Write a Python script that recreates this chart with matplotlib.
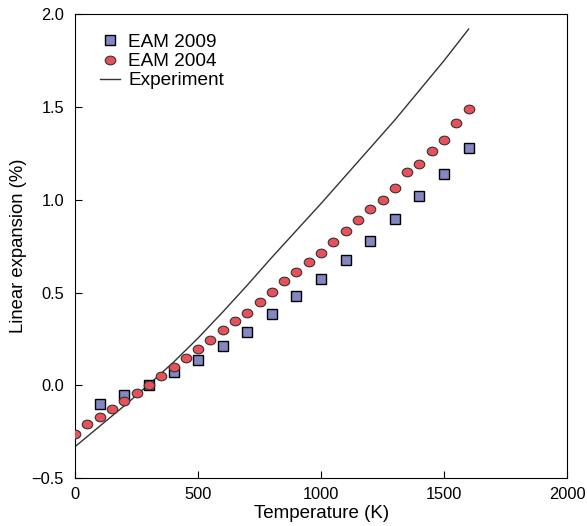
import numpy as np
import matplotlib.pyplot as plt
from matplotlib.path import Path
from matplotlib.transforms import Affine2D

plt.rcParams['font.family'] = ['Liberation Sans', 'DejaVu Sans']

# EAM 2009 (squares)
t_2009 = [100, 200, 300, 400, 500, 600, 700, 800, 900, 1000, 1100, 1200, 1300, 1400, 1500, 1600]
exp_2009 = [-0.10, -0.05, 0.00, 0.07, 0.135, 0.21, 0.29, 0.385, 0.48, 0.575, 0.675, 0.78, 0.895, 1.02, 1.14, 1.28]

# EAM 2004 (circles)
t_2004 = np.arange(0, 1650, 50)
exp_2004 = [-0.26, -0.21, -0.17, -0.125, -0.085, -0.04, 0.0, 0.05, 0.10, 0.145, 0.195,
            0.245, 0.30, 0.345, 0.39, 0.45, 0.505, 0.56, 0.61, 0.665, 0.715, 0.775,
            0.83, 0.89, 0.95, 1.00, 1.065, 1.15, 1.195, 1.265, 1.32, 1.415, 1.49]

# Experiment (line)
t_exp = [0, 100, 200, 300, 400, 500, 600, 700, 800, 900, 1000, 1100, 1200, 1300, 1400, 1500, 1600]
exp_exp = [-0.33, -0.22, -0.11, 0.005, 0.125, 0.255, 0.395, 0.54, 0.69, 0.835, 0.98,
           1.13, 1.28, 1.43, 1.59, 1.75, 1.92]

# slightly flattened circle marker
ellipse = Path.unit_circle().transformed(Affine2D().scale(1.0, 0.82))

fig = plt.figure(figsize=(5.87, 5.26), dpi=100)
ax = fig.add_axes([0.128, 0.091, 0.838, 0.882])

ax.plot(t_2009, exp_2009, 's', ms=6.6, mfc='#8587c2', mec='black', mew=1.0,
        label='EAM 2009', zorder=3)
ax.plot(t_2004, exp_2004, marker=ellipse, ls='none', ms=7.6, mfc='#e8505a',
        mec='#333333', mew=0.8, label='EAM 2004', zorder=3)
ax.plot(t_exp, exp_exp, '-', color='#333333', lw=1.0, label='Experiment', zorder=2)

ax.set_xlim(0, 2000)
ax.set_ylim(-0.5, 2.0)
ax.set_xticks([0, 500, 1000, 1500, 2000])
ax.set_yticks([-0.5, 0.0, 0.5, 1.0, 1.5, 2.0])
ax.set_yticklabels(['\u22120.5', '0.0', '0.5', '1.0', '1.5', '2.0'])
ax.tick_params(direction='in', length=5, labelsize=11.8, top=False, right=False)
ax.tick_params(axis='x', pad=6.5)
ax.tick_params(axis='y', pad=8)
ax.set_xlabel('Temperature (K)', fontsize=13.5, labelpad=2)
ax.set_ylabel('Linear expansion (%)', fontsize=13.3, labelpad=3)

ax.legend(loc='upper left', frameon=False, fontsize=13.7, handlelength=1.05,
          handletextpad=0.42, labelspacing=0.1, borderaxespad=0, borderpad=0,
          bbox_to_anchor=(0.051, 0.958))

fig.savefig('out.png', dpi=100)
